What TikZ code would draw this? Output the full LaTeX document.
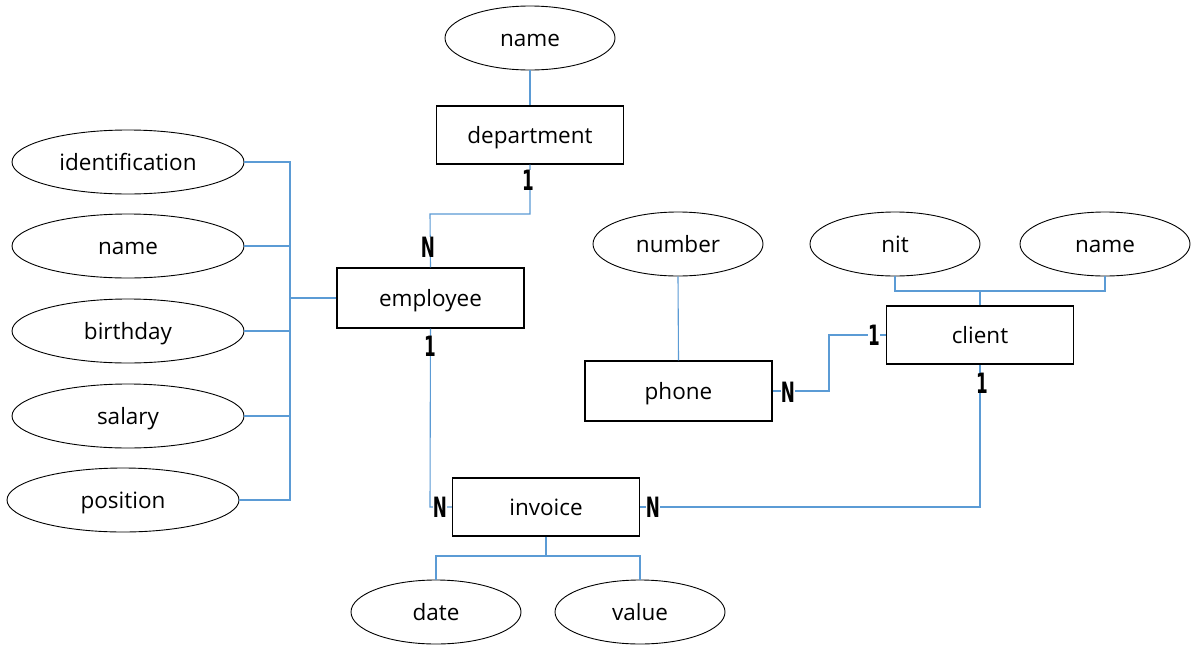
\documentclass[tikz,border=0pt]{standalone}
\usepackage{fontspec}
\setmainfont{Open Sans}
\newfontfamily\cardfont{DejaVu Sans}
\usetikzlibrary{shapes.geometric}
\definecolor{linkblue}{HTML}{5B9BD5}
\tikzset{
  txt/.style={font=\fontsize{22.5}{22.5}\selectfont, text height=16pt, text depth=0pt},
  attr/.style={ellipse, draw=black, line width=0.9pt, minimum width=170pt, minimum height=64pt, inner sep=0pt, txt},
  wattr/.style={attr, minimum width=232pt},
  ent/.style={rectangle, draw=black, line width=1.1pt, minimum width=187pt, minimum height=58pt, inner sep=0pt, txt},
  link/.style={draw=linkblue, line width=1.1pt},
  card/.style={inner sep=0pt, font=\cardfont\bfseries\fontsize{28}{28}\selectfont}
}
\newcommand{\cardtxt}[1]{\scalebox{0.6}[1]{#1}}
\begin{document}
\begin{tikzpicture}[x=1pt,y=-1pt]
\useasboundingbox[fill=white] (0,0) rectangle (1194,651);
% attributes
\node[attr] (dname) at (530,38) {name};
\node[wattr] (ident) at (128,162) {identification};
\node[wattr] (ename) at (128,246) {name};
\node[wattr] (birth) at (128,331) {birthday};
\node[wattr] (salary) at (128,416) {salary};
\node[wattr] (pos) at (123,500) {position};
\node[attr] (number) at (678,244) {number};
\node[attr] (nit) at (895,244) {nit};
\node[attr] (cname) at (1105,244) {name};
\node[attr] (date) at (436,612) {date};
\node[attr] (value) at (640,612) {value};
% entities
\node[ent] (dept) at (530,135) {department};
\node[ent, minimum height=60pt] (emp) at (430.5,298) {employee};
\node[ent, minimum height=60pt] (phone) at (678.5,391) {phone};
\node[ent] (client) at (980,335) {client};
\node[ent] (inv) at (546,507) {invoice};
% coordinates
\coordinate (bus) at (290,298);
\coordinate (dj) at (530,214);
\coordinate (ej) at (430,214);
\coordinate (ij) at (430,507);
\coordinate (cj) at (980,507);
\coordinate (pj1) at (829,391);
\coordinate (pj2) at (829,335);
\coordinate (ntop) at (980,291);
\coordinate (ibot) at (546,556);
% connectors
\draw[link] (dname.south) -- (dept.north);
\draw[link] (dept.south) -- (dj) -- (ej) -- (emp.north);
\draw[link] (ident.east) -- (290,162) -- (290,500) -- (pos.east);
\draw[link] (ename.east) -- (290,246);
\draw[link] (birth.east) -- (290,331);
\draw[link] (salary.east) -- (290,416);
\draw[link] (emp.west) -- (bus);
\draw[link] (emp.south) -- (ij) -- (inv.west);
\draw[link] (inv.east) -- (cj) -- (client.south);
\draw[link] (phone.east) -- (pj1) -- (pj2) -- (client.west);
\draw[link] (number.south) -- (phone.north);
\draw[link] (nit.south) -- (895,291) -- (1105,291) -- (cname.south);
\draw[link] (client.north) -- (ntop);
\draw[link] (inv.south) -- (ibot) -- (436,556) -- (date.north);
\draw[link] (ibot) -- (640,556) -- (value.north);
% cardinalities
\node[card, fill=white] (c1) at (528,180) {\cardtxt{1}};
\node[card, fill=white] (c2) at (428,247) {\cardtxt{N}};
\node[card, fill=white] (c3) at (430,346) {\cardtxt{1}};
\node[card, fill=white] (c4) at (440,507) {\cardtxt{N}};
\node[card, fill=white] (c5) at (653,507) {\cardtxt{N}};
\node[card, fill=white] (c6) at (982,383) {\cardtxt{1}};
\node[card, fill=white] (c7) at (788,392) {\cardtxt{N}};
\node[card, fill=white] (c8) at (874,335) {\cardtxt{1}};
\end{tikzpicture}
\end{document}
